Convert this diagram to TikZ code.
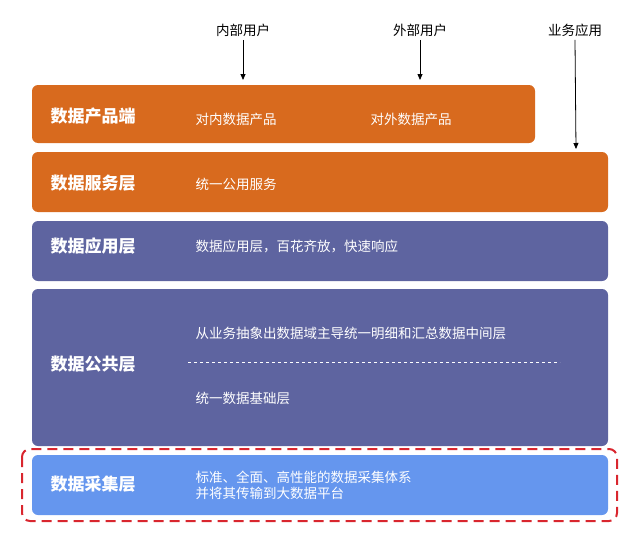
\documentclass[tikz,border=0pt]{standalone}
\usepackage{fontspec}
\setmainfont{Noto Sans CJK SC}
\usetikzlibrary{arrows.meta}
\definecolor{org}{HTML}{D86A1E}
\definecolor{pur}{HTML}{5E64A0}
\definecolor{blu}{HTML}{6596EE}
\definecolor{rd}{HTML}{D9262E}
\begin{document}
\begin{tikzpicture}[x=1pt,y=-1pt,
 layer/.style={rounded corners=6pt,draw=none},
 ttl/.style={text=white,font=\fontsize{17}{20}\selectfont\bfseries,anchor=west},
 txt/.style={text=white,font=\fontsize{13.5}{18}\selectfont,anchor=west,align=left},
 lbl/.style={font=\fontsize{13.5}{16}\selectfont},
 arr/.style={-{Triangle[length=6pt,width=5pt]},line width=0.8pt}]
\useasboundingbox (0,0) rectangle (640,538);
\fill[layer,org] (32,85) rectangle (535,143);
\fill[layer,org] (32,152) rectangle (608,212);
\fill[layer,pur] (32,221) rectangle (608,281);
\fill[layer,pur] (32,289) rectangle (608,446);
\fill[layer,blu] (32,455) rectangle (608,515);
\draw[rd,line width=2pt,dash pattern=on 10pt off 6pt,rounded corners=8pt] (22,449) rectangle (617,521);
\node[ttl] (t1) at (47,116) {数据产品端};
\node[ttl] (t2) at (47,183) {数据服务层};
\node[ttl] (t3) at (47,246) {数据应用层};
\node[ttl] (t4) at (47,364) {数据公共层};
\node[ttl] (t5) at (47,484) {数据采集层};
\node[txt] (a1) at (192,119) {对内数据产品};
\node[txt] (a2) at (367,119) {对外数据产品};
\node[txt] (b1) at (192,184) {统一公用服务};
\node[txt] (c1) at (192,246) {数据应用层，百花齐放，快速响应};
\node[txt] (d1) at (192,333) {从业务抽象出数据域主导统一明细和汇总数据中间层};
\node[txt] (d2) at (192,398) {统一数据基础层};
\draw[white,dashed,line width=0.8pt] (188,362) -- (560,362);
\node[txt,font=\fontsize{13.5}{16}\selectfont] (e1) at (192,485) {标准、全面、高性能的数据采集体系\\并将其传输到大数据平台};
\node[lbl] (u1) at (243,30) {内部用户};
\node[lbl] (u2) at (420,30) {外部用户};
\node[lbl] (u3) at (575,30) {业务应用};
\coordinate (p1) at (243,80);
\coordinate (p2) at (420,80);
\coordinate (p3) at (576,149);
\draw[arr] (u1.south) -- (p1);
\draw[arr] (u2.south) -- (p2);
\draw[arr] (u3.south) -- (p3);
\end{tikzpicture}
\end{document}
